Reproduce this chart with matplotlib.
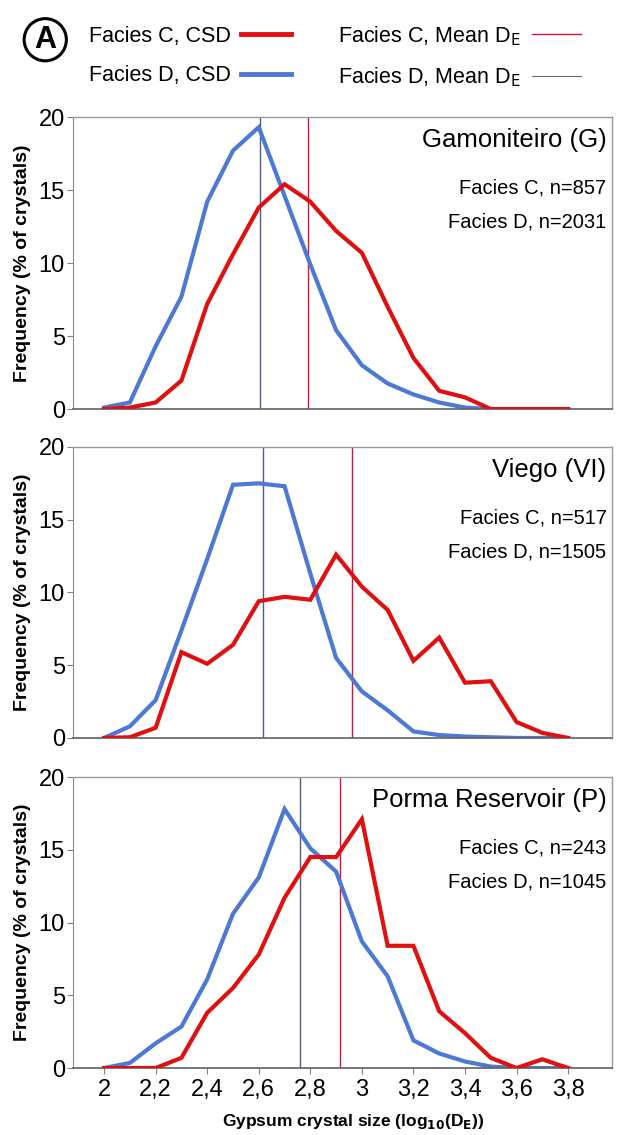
#!/usr/bin/env python
'''
Gypsum crystal size distributions (CSD) for facies C and D
at three sites, with mean D_E marked for each facies.
'''
import numpy as np
import matplotlib
matplotlib.use('Agg')
import matplotlib.pyplot as plt
from matplotlib.lines import Line2D

# Constants
BIGFONT=18.5
MIDFONT=15.5
SMFONT=14.5
LABFONT=14
TICKFONT=17

FIG_WIDTH=6.2
FIG_HEIGHT=11.35

C_RED='#e01010'
C_BLUE='#4d78d6'
C_MEAN_C='#d4143c'
C_MEAN_D='#4f5b8e'

plt.rcParams['font.family']=['Liberation Sans Narrow', 'Liberation Sans', 'DejaVu Sans']
SANS=['Liberation Sans', 'DejaVu Sans']

# log10(D_E) bins
size_bins=[2.0, 2.1, 2.2, 2.3, 2.4, 2.5, 2.6, 2.7, 2.8, 2.9,
           3.0, 3.1, 3.2, 3.3, 3.4, 3.5, 3.6, 3.7, 3.8]

site_names=['Gamoniteiro (G)', 'Viego (VI)', 'Porma Reservoir (P)']
n_facies_c=[857, 517, 243]
n_facies_d=[2031, 1505, 1045]

# frequency (% of crystals)
csd_c_gamoniteiro=[0.0, 0.1, 0.45, 1.95, 7.2, 10.6, 13.8, 15.4, 14.2, 12.2,
                   10.7, 7.0, 3.5, 1.25, 0.8, 0.0, 0.0, 0.0, 0.0]
csd_d_gamoniteiro=[0.1, 0.45, 4.3, 7.7, 14.2, 17.7, 19.3, 14.6, 9.9, 5.4,
                   3.0, 1.75, 1.0, 0.45, 0.1, 0.0, 0.0, 0.0, 0.0]

csd_c_viego=[0.0, 0.05, 0.7, 5.9, 5.1, 6.4, 9.4, 9.7, 9.5, 12.6,
             10.4, 8.8, 5.3, 6.9, 3.8, 3.9, 1.1, 0.35, 0.0]
csd_d_viego=[0.0, 0.8, 2.6, 7.4, 12.3, 17.4, 17.5, 17.3, 11.3, 5.5,
             3.2, 1.9, 0.45, 0.2, 0.1, 0.05, 0.0, 0.0, 0.0]

csd_c_porma=[0.0, 0.0, 0.0, 0.7, 3.8, 5.5, 7.8, 11.7, 14.5, 14.5,
             17.1, 8.4, 8.4, 3.9, 2.4, 0.7, 0.0, 0.6, 0.0]
csd_d_porma=[0.0, 0.35, 1.7, 2.85, 6.1, 10.6, 13.1, 17.8, 15.1, 13.5,
             8.7, 6.3, 1.9, 1.0, 0.45, 0.1, 0.0, 0.0, 0.0]

mean_de_c=[2.79, 2.96, 2.915]
mean_de_d=[2.605, 2.617, 2.76]

xtick_vals=[2.0, 2.2, 2.4, 2.6, 2.8, 3.0, 3.2, 3.4, 3.6, 3.8]
xtick_labels=['2', '2,2', '2,4', '2,6', '2,8', '3', '3,2', '3,4', '3,6', '3,8']
ytick_vals=[0, 5, 10, 15, 20]


def style_axes(ax, bottom):
    ax.set_xlim(1.88, 3.97)
    ax.set_ylim(0, 20)
    ax.set_yticks(ytick_vals)
    ax.tick_params(axis='y', direction='out', length=4, width=0.8, color='#808080',
                   labelsize=TICKFONT, pad=2)
    for side in ['top', 'right']:
        ax.spines[side].set_color('#9a9a9a')
        ax.spines[side].set_linewidth(1.0)
    ax.spines['left'].set_color('#8a8a8a')
    ax.spines['bottom'].set_color('#606060')
    ax.spines['bottom'].set_linewidth(1.2)
    ax.set_ylabel('Frequency (% of crystals)', fontsize=LABFONT, fontweight='bold')
    ax.yaxis.set_label_coords(-0.078, 0.5)
    if bottom:
        ax.set_xticks(xtick_vals)
        ax.set_xticklabels(xtick_labels)
        ax.tick_params(axis='x', direction='out', length=4, width=0.8, color='#808080',
                       labelsize=TICKFONT, pad=4)
        ax.set_xlabel(r'Gypsum crystal size (log$_{\mathbf{10}}$(D$_{\mathbf{E}}$))',
                      fontsize=12.5, fontweight='bold')
        ax.xaxis.set_label_coords(0.52, -0.152)
    else:
        ax.set_xticks([])


def main():
    fig=plt.figure(figsize=[FIG_WIDTH, FIG_HEIGHT], dpi=100)

    csd_c=[csd_c_gamoniteiro, csd_c_viego, csd_c_porma]
    csd_d=[csd_d_gamoniteiro, csd_d_viego, csd_d_porma]
    # panel [left, bottom, width, height]
    boxes=[[0.118, 0.6396, 0.869, 0.2573],
           [0.118, 0.3498, 0.869, 0.2564],
           [0.118, 0.0590, 0.869, 0.2564]]

    for ii in range(3):
        ax=fig.add_axes(boxes[ii])
        ax.axvline(mean_de_d[ii], color=C_MEAN_D, lw=1.0, zorder=1)
        ax.axvline(mean_de_c[ii], color=C_MEAN_C, lw=1.0, zorder=1)
        ax.plot(size_bins, csd_d[ii], color=C_BLUE, lw=3.0, zorder=2,
                solid_joinstyle='miter')
        ax.plot(size_bins, csd_c[ii], color=C_RED, lw=3.0, zorder=3,
                solid_joinstyle='miter')
        ax.text(0.99, 0.92, site_names[ii], transform=ax.transAxes, ha='right',
                va='center', fontsize=BIGFONT, family=SANS)
        ax.text(0.99, 0.757, 'Facies C, n=%d' % n_facies_c[ii], transform=ax.transAxes,
                ha='right', va='center', fontsize=SMFONT, family=SANS)
        ax.text(0.99, 0.64, 'Facies D, n=%d' % n_facies_d[ii], transform=ax.transAxes,
                ha='right', va='center', fontsize=SMFONT, family=SANS)
        style_axes(ax, ii==2)

    # legend at top
    handles=[Line2D([], [], color=C_RED, lw=3.5),
             Line2D([], [], color=C_BLUE, lw=3.5),
             Line2D([], [], color=C_MEAN_C, lw=1.0),
             Line2D([], [], color='#6a6a6a', lw=0.8)]
    labels=['Facies C, CSD', 'Facies D, CSD',
            r'Facies C, Mean D$_{\mathrm{E}}$', r'Facies D, Mean D$_{\mathrm{E}}$']
    fig.legend(handles, labels, ncol=2, markerfirst=False, frameon=False,
               loc='upper left', bbox_to_anchor=(0.112, 0.996),
               prop={'family': SANS, 'size': MIDFONT},
               handlelength=2.3, handletextpad=0.5, columnspacing=2.2,
               labelspacing=0.85)

    fig.text(0.073, 0.965, 'A', ha='center', va='center', fontsize=22, fontweight='bold',
             family=SANS,
             bbox=dict(boxstyle='circle,pad=0.2', fc='white', ec='black', lw=2.2))

    plt.savefig('out.png', dpi=100)
    plt.close('all')


if __name__ == "__main__":
    main()
